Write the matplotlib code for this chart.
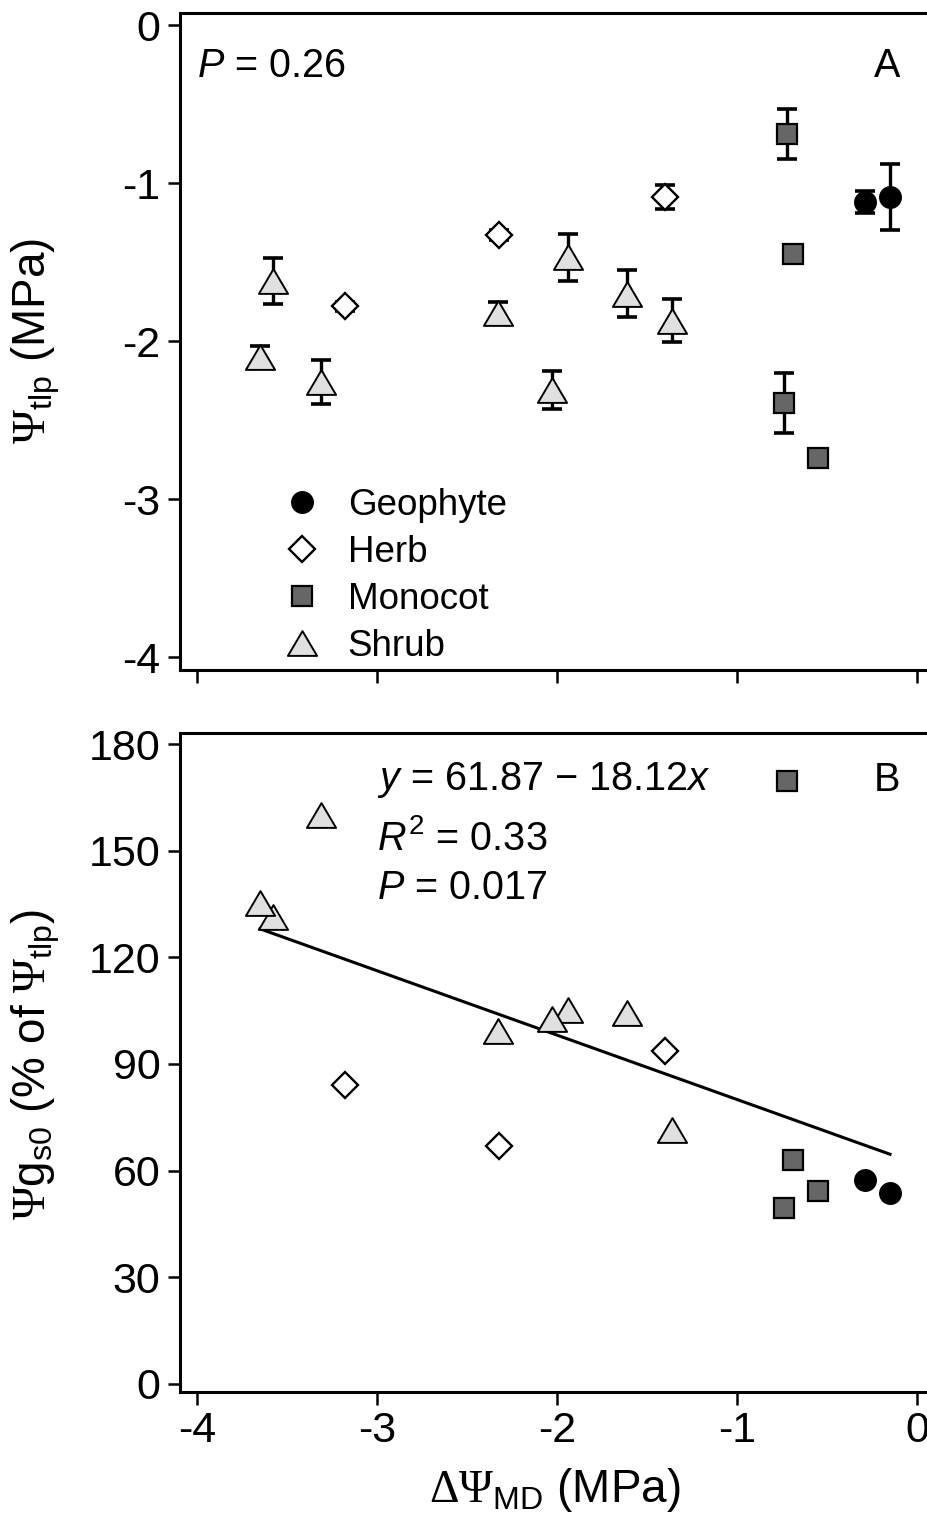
import matplotlib
matplotlib.use("Agg")
import matplotlib.pyplot as plt
from matplotlib.path import Path
from matplotlib.lines import Line2D
import numpy as np

plt.rcParams['font.family'] = ['Liberation Sans', 'DejaVu Sans']
plt.rcParams['axes.unicode_minus'] = False
plt.rcParams['mathtext.fontset'] = 'custom'
plt.rcParams['mathtext.rm'] = 'Liberation Serif'
plt.rcParams['mathtext.it'] = 'Liberation Sans:italic'
plt.rcParams['mathtext.sf'] = 'Liberation Sans'

# Daten: dPsi_MD (x), Psi_tlp +- SE (panel A), Psi_gs0 % (panel B)
geo_x = [-0.29, -0.15]
geo_tlp = [-1.12, -1.09]
geo_err = [0.07, 0.21]
geo_gs0 = [57.4, 53.7]

herb_x = [-3.18, -2.32, -1.40]
herb_tlp = [-1.78, -1.33, -1.09]
herb_err = [0.03, 0.03, 0.075]
herb_gs0 = [84.1, 66.9, 93.6]

mono_x = [-0.72, -0.69, -0.74, -0.55]
mono_tlp = [-0.69, -1.45, -2.39, -2.74]
mono_err = [0.16, 0.04, 0.19, 0.03]
mono_gs0 = [169.6, 63.0, 49.5, 54.3]

shrub_x = [-3.58, -3.65, -3.31, -2.33, -1.94, -2.03, -1.61, -1.36]
shrub_tlp = [-1.62, -2.10, -2.26, -1.82, -1.47, -2.31, -1.70, -1.87]
shrub_err = [0.145, 0.07, 0.14, 0.07, 0.15, 0.12, 0.15, 0.135]
shrub_gs0 = [131.4, 135.3, 160.0, 99.3, 105.2, 102.6, 104.3, 71.4]

# Regression B
intercept, slope = 61.87, -18.12

tri = Path([(-1, -0.85), (1, -0.85), (0, 0.85), (-1, -0.85)],
           [Path.MOVETO, Path.LINETO, Path.LINETO, Path.CLOSEPOLY])

groups = [
    ("Geophyte", geo_x, geo_tlp, geo_err, geo_gs0, dict(marker='o', ms=15.5, mfc='black', mec='black', mew=1)),
    ("Herb", herb_x, herb_tlp, herb_err, herb_gs0, dict(marker='D', ms=13, mfc='white', mec='black', mew=1.7)),
    ("Monocot", mono_x, mono_tlp, mono_err, mono_gs0, dict(marker='s', ms=14, mfc='#666666', mec='black', mew=1.6)),
    ("Shrub", shrub_x, shrub_tlp, shrub_err, shrub_gs0, dict(marker=tri, ms=21, mfc='#e0e0e0', mec='black', mew=1.4)),
]

fig = plt.figure(figsize=(9.28, 15.17), dpi=100)
axA = fig.add_axes([0.194, 0.5583, 0.806, 0.4331])
axB = fig.add_axes([0.194, 0.0824, 0.806, 0.4344])

fs_tick = 31
fs_txt = 28.5
fs_lab = 33
for ax in (axA, axB):
    for s in ['left', 'bottom', 'top']:
        ax.spines[s].set_linewidth(2.2)
    ax.spines['right'].set_visible(False)
    ax.tick_params(direction='out', length=9, width=1.8, labelsize=fs_tick, pad=5)
    ax.set_xlim(-4.094, 0.061)
    ax.set_xticks([-4, -3, -2, -1, 0])

for name, x, tlp, err, gs0, st in groups:
    axA.errorbar(x, tlp, yerr=err, fmt='none', ecolor='black', elinewidth=2.4,
                 capsize=7, capthick=2.6, zorder=2)
    axA.plot(x, tlp, linestyle='none', zorder=3, **st)
    axB.plot(x, gs0, linestyle='none', zorder=3, **st)

axA.set_ylim(-4.082, 0.076)
axA.set_yticks([0, -1, -2, -3, -4])
axA.tick_params(axis='x', labelbottom=False)
axA.text(-4.0, -0.26, r'$P$ = 0.26', fontsize=fs_txt, ha='left', va='center')
axA.text(-0.167, -0.26, 'A', fontsize=fs_txt, ha='center', va='center')

handles = [Line2D([], [], linestyle='none', **st) for _, _, _, _, _, st in groups]
labels = [g[0] for g in groups]
axA.legend(handles, labels, loc='center left', bbox_to_anchor=(0.138, 0.143),
           frameon=False, fontsize=26.5, handlelength=1.0, handletextpad=0.75,
           labelspacing=0.33, borderpad=0, borderaxespad=0)

xs = np.array([min(shrub_x), max(geo_x)])
axB.plot(xs, intercept + slope * xs, color='black', lw=2.2, zorder=2)
axB.set_ylim(-2.3, 183.1)
axB.set_yticks([0, 30, 60, 90, 120, 150, 180])
axB.text(-3.0, 169.9, r'$y$ = 61.87 − 18.12$x$', fontsize=fs_txt, ha='left', va='center')
axB.text(-3.0, 153.5, r'$R^{\mathsf{2}}$ = 0.33', fontsize=fs_txt, ha='left', va='center')
axB.text(-3.0, 139.5, r'$P$ = 0.017', fontsize=fs_txt, ha='left', va='center')
axB.text(-0.167, 169.9, 'B', fontsize=fs_txt, ha='center', va='center')

fig.text(36 / 928, 1 - 341 / 1517, r'$\Psi_{\mathsf{tlp}}$ (MPa)', fontsize=fs_lab,
         rotation=90, ha='center', va='center')
fig.text(36 / 928, 1 - 1064 / 1517, r'$\Psi\mathsf{g}_{\mathsf{s0}}$ (% of $\Psi_{\mathsf{tlp}}$)',
         fontsize=fs_lab, rotation=90, ha='center', va='center')
fig.text(555 / 928, 1 - 1490 / 1517, r'$\Delta\Psi_{\mathsf{MD}}$ (MPa)', fontsize=fs_lab,
         ha='center', va='center')

fig.savefig('out.png', dpi=100)
